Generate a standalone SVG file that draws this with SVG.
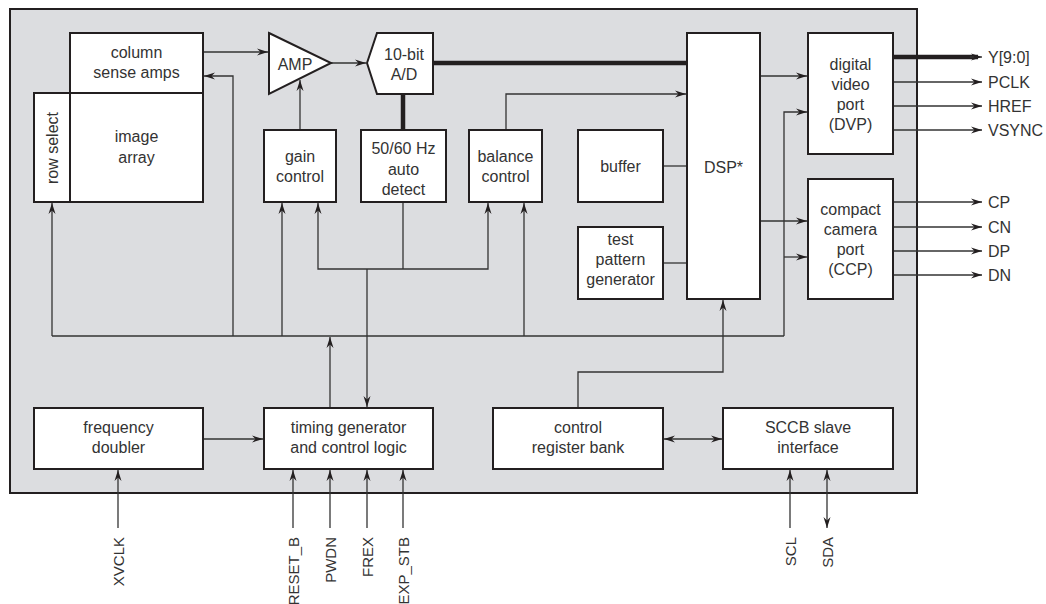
<svg xmlns="http://www.w3.org/2000/svg" width="1046" height="604" viewBox="0 0 1046 604">
<style>
.box{fill:#fff;stroke:#231f20;stroke-width:2}
.t{font-family:"Liberation Sans",Arial,sans-serif;font-size:16px;fill:#333;text-anchor:middle}
.lbl{font-family:"Liberation Sans",Arial,sans-serif;font-size:15px;fill:#333}
.rl{font-family:"Liberation Sans",Arial,sans-serif;font-size:16px;fill:#333}
.c{fill:none;stroke:#333;stroke-width:1.3}
.thick{fill:none;stroke:#231f20;stroke-width:4.5}
</style>
<defs>
<marker id="a" markerUnits="userSpaceOnUse" markerWidth="12" markerHeight="8" refX="11" refY="4" orient="auto-start-reverse">
<path d="M0,0.5 L11,4 L0,7.5 L3.5,4 Z" fill="#231f20"/>
</marker>
</defs>
<rect x="10" y="9" width="907" height="484" fill="#dcdde0" stroke="#231f20" stroke-width="2"/>

<g id="connectors">
<path class="c" d="M203,52 H268" marker-end="url(#a)"/>
<path class="c" d="M331,63 H366" marker-end="url(#a)"/>
<path class="thick" d="M433,63 H687"/>
<path class="thick" d="M403,94 V130"/>
<path class="c" d="M300,130 V80" marker-end="url(#a)"/>
<path class="c" d="M506,130 V94 H686" marker-end="url(#a)"/>
<path class="c" d="M663,166 H687"/>
<path class="c" d="M663,263 H687"/>
<path class="c" d="M760,76 H807" marker-end="url(#a)"/>
<path class="c" d="M760,221 H807" marker-end="url(#a)"/>
<path class="c" d="M784,336 V112 H807" marker-end="url(#a)"/>
<path class="c" d="M784,257 H807" marker-end="url(#a)"/>
<path class="thick" d="M893,57 H978"/>
<path class="c" d="M970,57 H982" marker-end="url(#a)"/>
<path class="c" d="M893,82 H982" marker-end="url(#a)"/>
<path class="c" d="M893,106 H982" marker-end="url(#a)"/>
<path class="c" d="M893,130 H982" marker-end="url(#a)"/>
<path class="c" d="M893,202 H982" marker-end="url(#a)"/>
<path class="c" d="M893,227 H982" marker-end="url(#a)"/>
<path class="c" d="M893,251 H982" marker-end="url(#a)"/>
<path class="c" d="M893,275 H982" marker-end="url(#a)"/>
<path class="c" d="M52,336 H784"/>
<path class="c" d="M52,336 V203" marker-end="url(#a)"/>
<path class="c" d="M233,336 V76 H204" marker-end="url(#a)"/>
<path class="c" d="M282,336 V203" marker-end="url(#a)"/>
<path class="c" d="M524,336 V203" marker-end="url(#a)"/>
<path class="c" d="M318,203 V269 H488 V203" marker-start="url(#a)" marker-end="url(#a)"/>
<path class="c" d="M403,202 V269"/>
<path class="c" d="M367,269 V407" marker-end="url(#a)"/>
<path class="c" d="M330,408 V337" marker-end="url(#a)"/>
<path class="c" d="M578,408 V372 H723 V300" marker-end="url(#a)"/>
<path class="c" d="M203,439 H263" marker-end="url(#a)"/>
<path class="c" d="M664,439 H722" marker-start="url(#a)" marker-end="url(#a)"/>
<path class="c" d="M118,528 V470" marker-end="url(#a)"/>
<path class="c" d="M293,528 V470" marker-end="url(#a)"/>
<path class="c" d="M330,528 V470" marker-end="url(#a)"/>
<path class="c" d="M367,528 V470" marker-end="url(#a)"/>
<path class="c" d="M403,528 V470" marker-end="url(#a)"/>
<path class="c" d="M790,528 V470" marker-end="url(#a)"/>
<path class="c" d="M827,528 V470" marker-start="url(#a)" marker-end="url(#a)"/>
</g>

<g id="column-sense-amps"><rect class="box" x="70" y="33" width="133" height="60"/><text class="t" x="136.5" y="58">column</text><text class="t" x="136.5" y="78">sense amps</text></g>
<g id="row-select"><rect class="box" x="34" y="93" width="36" height="109"/><text class="t" transform="translate(57.5,148) rotate(-90)">row select</text></g>
<g id="image-array"><rect class="box" x="70" y="93" width="133" height="109"/><text class="t" x="136.5" y="142">image</text><text class="t" x="136.5" y="163">array</text></g>
<g id="amp"><path class="box" d="M269,33 L331,63 L269,94 Z"/><text class="t" x="295" y="70">AMP</text></g>
<g id="adc"><path class="box" d="M367,63 L377,33 H433 V94 H377 Z"/><text class="t" x="404" y="60">10-bit</text><text class="t" x="404" y="80">A/D</text></g>
<g id="gain-control"><rect class="box" x="264" y="130" width="72" height="72"/><text class="t" x="300" y="162">gain</text><text class="t" x="300" y="182">control</text></g>
<g id="auto-detect"><rect class="box" x="361" y="130" width="85" height="72"/><text class="t" x="403.5" y="154">50/60 Hz</text><text class="t" x="403.5" y="175">auto</text><text class="t" x="403.5" y="195">detect</text></g>
<g id="balance-control"><rect class="box" x="469" y="130" width="73" height="72"/><text class="t" x="505.5" y="162">balance</text><text class="t" x="505.5" y="182">control</text></g>
<g id="buffer"><rect class="box" x="578" y="130" width="85" height="72"/><text class="t" x="620.5" y="172">buffer</text></g>
<g id="test-pattern"><rect class="box" x="578" y="227" width="85" height="72"/><text class="t" x="620.5" y="245">test</text><text class="t" x="620.5" y="265">pattern</text><text class="t" x="620.5" y="285">generator</text></g>
<g id="dsp"><rect class="box" x="687" y="33" width="73" height="266"/><text class="t" x="723.5" y="173">DSP*</text></g>
<g id="dvp"><rect class="box" x="808" y="33" width="85" height="121"/><text class="t" x="850.5" y="70">digital</text><text class="t" x="850.5" y="90">video</text><text class="t" x="850.5" y="110">port</text><text class="t" x="850.5" y="130">(DVP)</text></g>
<g id="ccp"><rect class="box" x="808" y="179" width="85" height="120"/><text class="t" x="850.5" y="215">compact</text><text class="t" x="850.5" y="235">camera</text><text class="t" x="850.5" y="255">port</text><text class="t" x="850.5" y="275">(CCP)</text></g>
<g id="frequency-doubler"><rect class="box" x="34" y="408" width="169" height="61"/><text class="t" x="118.5" y="433">frequency</text><text class="t" x="118.5" y="453">doubler</text></g>
<g id="timing-generator"><rect class="box" x="264" y="408" width="169" height="61"/><text class="t" x="348.5" y="433">timing generator</text><text class="t" x="348.5" y="453">and control logic</text></g>
<g id="control-register-bank"><rect class="box" x="493" y="408" width="170" height="61"/><text class="t" x="578" y="433">control</text><text class="t" x="578" y="453">register bank</text></g>
<g id="sccb"><rect class="box" x="723" y="408" width="170" height="61"/><text class="t" x="808" y="433">SCCB slave</text><text class="t" x="808" y="453">interface</text></g>

<g id="pins">
<text class="rl" x="988" y="63">Y[9:0]</text>
<text class="rl" x="988" y="88">PCLK</text>
<text class="rl" x="988" y="112">HREF</text>
<text class="rl" x="988" y="136">VSYNC</text>
<text class="rl" x="988" y="208">CP</text>
<text class="rl" x="988" y="233">CN</text>
<text class="rl" x="988" y="257">DP</text>
<text class="rl" x="988" y="281">DN</text>
<text class="lbl" text-anchor="end" transform="translate(123.5,537) rotate(-90)">XVCLK</text>
<text class="lbl" text-anchor="end" transform="translate(298.5,537) rotate(-90)">RESET_B</text>
<text class="lbl" text-anchor="end" transform="translate(335.5,537) rotate(-90)">PWDN</text>
<text class="lbl" text-anchor="end" transform="translate(372.5,537) rotate(-90)">FREX</text>
<text class="lbl" text-anchor="end" transform="translate(408.5,537) rotate(-90)">EXP_STB</text>
<text class="lbl" text-anchor="end" transform="translate(795.5,537) rotate(-90)">SCL</text>
<text class="lbl" text-anchor="end" transform="translate(832.5,537) rotate(-90)">SDA</text>
</g>
</svg>
